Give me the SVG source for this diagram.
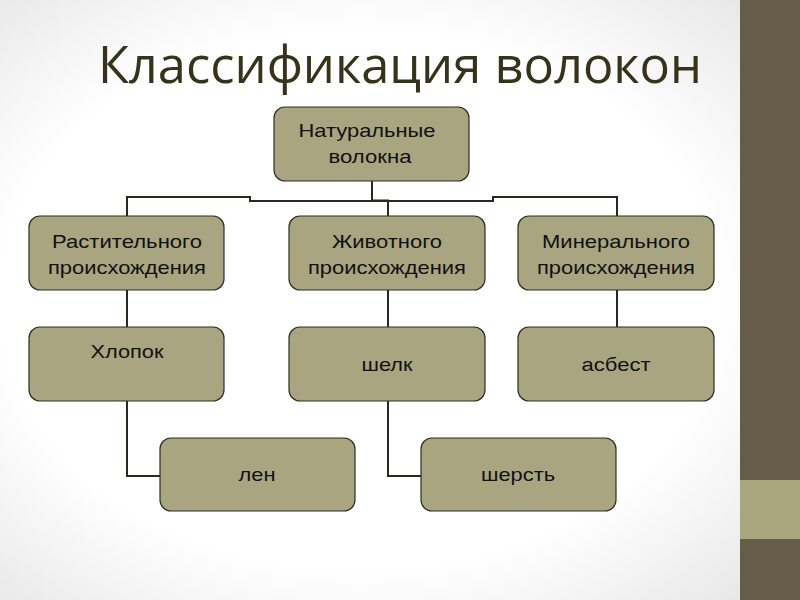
<svg xmlns="http://www.w3.org/2000/svg" width="800" height="600" viewBox="0 0 800 600">
<defs>
<radialGradient id="bg" cx="0.45" cy="0.5" r="0.75">
<stop offset="0.6" stop-color="#ffffff"/>
<stop offset="1" stop-color="#e2e2e2"/>
</radialGradient>
<style>
.box{fill:#a9a581;stroke:#2e2e22;stroke-width:1.2}
.t{font-family:"Liberation Sans",Arial,sans-serif;font-size:18.5px;fill:#111;text-anchor:middle}
.c{fill:none;stroke:#2a2a1c;stroke-width:2}
</style>
</defs>
<rect width="800" height="600" fill="url(#bg)"/>
<rect x="740" y="0" width="60" height="600" fill="#665d48"/>
<rect x="740" y="480" width="60" height="59" fill="#aaa67e"/>
<text x="98" y="83" font-family="Open Sans,DejaVu Sans,sans-serif" font-size="52" fill="#37331a" textLength="604" lengthAdjust="spacingAndGlyphs">Классификация волокон</text>
<g id="connectors" class="c">
<path d="M372 181V200"/>
<path d="M127 216V197H250V201H493V197H617V216"/>
<path d="M372 200.5H388V216"/>
<path d="M127 290V327"/>
<path d="M127 401V476H160"/>
<path d="M388 290V327"/>
<path d="M388 401V476H421"/>
<path d="M617 290V327"/>
</g>
<g id="n-natural"><rect class="box" x="274" y="107" width="195" height="74" rx="11"/><text class="t" x="367" y="137" textLength="137" lengthAdjust="spacingAndGlyphs">Натуральные</text><text class="t" x="370" y="163" textLength="83" lengthAdjust="spacingAndGlyphs">волокна</text></g>
<g id="n-plant"><rect class="box" x="29" y="216" width="195" height="74" rx="11"/><text class="t" x="127" y="248" textLength="150" lengthAdjust="spacingAndGlyphs">Растительного</text><text class="t" x="127" y="274" textLength="158" lengthAdjust="spacingAndGlyphs">происхождения</text></g>
<g id="n-animal"><rect class="box" x="289" y="216" width="196" height="74" rx="11"/><text class="t" x="387" y="248" textLength="110" lengthAdjust="spacingAndGlyphs">Животного</text><text class="t" x="387" y="274" textLength="158" lengthAdjust="spacingAndGlyphs">происхождения</text></g>
<g id="n-mineral"><rect class="box" x="518" y="216" width="196" height="74" rx="11"/><text class="t" x="616" y="248" textLength="148" lengthAdjust="spacingAndGlyphs">Минерального</text><text class="t" x="616" y="274" textLength="158" lengthAdjust="spacingAndGlyphs">происхождения</text></g>
<g id="n-cotton"><rect class="box" x="29" y="327" width="195" height="74" rx="11"/><text class="t" x="127" y="358" textLength="73" lengthAdjust="spacingAndGlyphs">Хлопок</text></g>
<g id="n-silk"><rect class="box" x="289" y="327" width="196" height="74" rx="11"/><text class="t" x="387" y="371" textLength="51" lengthAdjust="spacingAndGlyphs">шелк</text></g>
<g id="n-asbestos"><rect class="box" x="518" y="327" width="196" height="74" rx="11"/><text class="t" x="616" y="371" textLength="69" lengthAdjust="spacingAndGlyphs">асбест</text></g>
<g id="n-flax"><rect class="box" x="160" y="438" width="195" height="73" rx="11"/><text class="t" x="257" y="481" textLength="37" lengthAdjust="spacingAndGlyphs">лен</text></g>
<g id="n-wool"><rect class="box" x="421" y="438" width="195" height="73" rx="11"/><text class="t" x="518" y="481" textLength="74" lengthAdjust="spacingAndGlyphs">шерсть</text></g>
</svg>
